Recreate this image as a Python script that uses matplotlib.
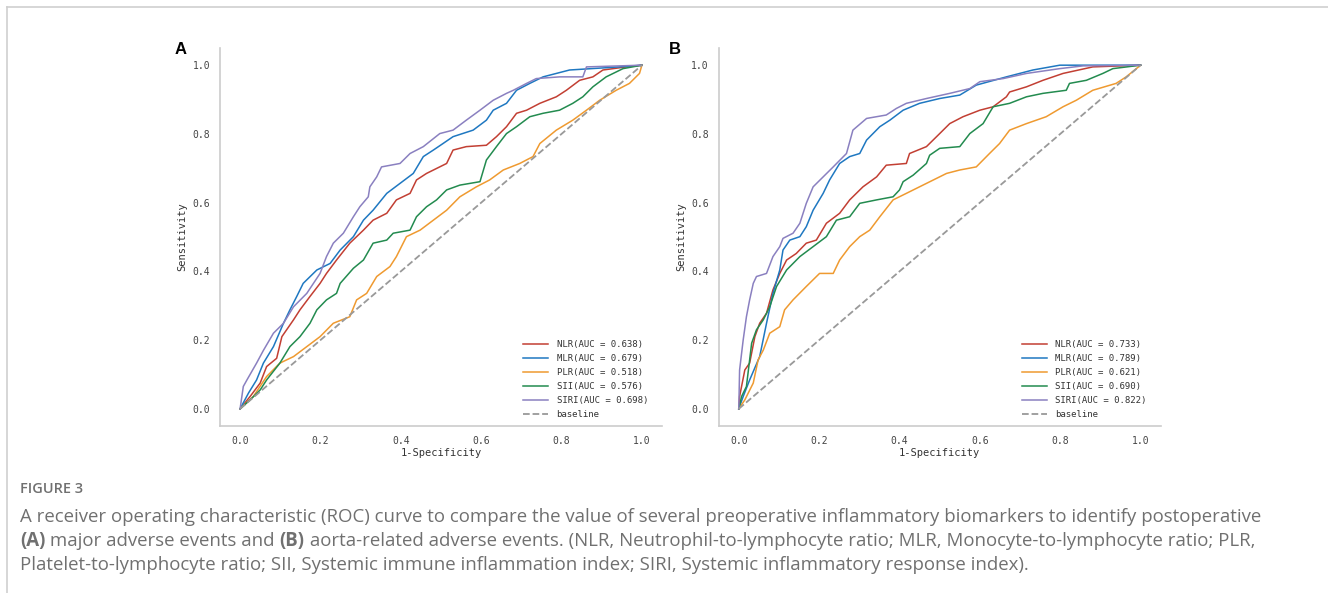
import matplotlib.pyplot as plt

W, H = 1328, 593

markers = ['NLR', 'MLR', 'PLR', 'SII', 'SIRI']
colors = ['#c23f33', '#1f78c1', '#ef9a30', '#238b4f', '#8a80c0']
auc_a = [0.638, 0.679, 0.518, 0.576, 0.698]
auc_b = [0.733, 0.789, 0.621, 0.690, 0.822]

# ---- panel A: major adverse events ----
a_nlr_fpr = [0, 0.025, 0.050, 0.066, 0.091, 0.104, 0.133, 0.149, 0.174, 0.199, 0.215, 0.240, 0.273, 0.307,
             0.331, 0.365, 0.389, 0.423, 0.439, 0.464, 0.514, 0.530, 0.563, 0.613, 0.638, 0.663, 0.688,
             0.713, 0.746, 0.787, 0.812, 0.845, 0.878, 0.903, 0.961, 1]
a_nlr_tpr = [0, 0.036, 0.075, 0.123, 0.147, 0.210, 0.259, 0.288, 0.327, 0.365, 0.394, 0.433, 0.482, 0.520,
             0.549, 0.569, 0.608, 0.627, 0.666, 0.685, 0.714, 0.753, 0.763, 0.767, 0.792, 0.821, 0.860,
             0.869, 0.889, 0.908, 0.927, 0.956, 0.966, 0.986, 0.995, 1]
a_mlr_fpr = [0, 0.021, 0.041, 0.058, 0.083, 0.108, 0.124, 0.141, 0.157, 0.191, 0.224, 0.249, 0.282, 0.307,
             0.331, 0.365, 0.398, 0.431, 0.456, 0.481, 0.505, 0.530, 0.580, 0.613, 0.630, 0.663, 0.688,
             0.721, 0.754, 0.820, 0.944, 1]
a_mlr_tpr = [0, 0.046, 0.084, 0.133, 0.181, 0.249, 0.288, 0.327, 0.365, 0.404, 0.423, 0.462, 0.501, 0.549,
             0.578, 0.627, 0.656, 0.685, 0.734, 0.753, 0.772, 0.792, 0.811, 0.840, 0.869, 0.889, 0.927,
             0.947, 0.966, 0.986, 0.995, 1]
a_plr_fpr = [0, 0.033, 0.066, 0.099, 0.133, 0.166, 0.199, 0.232, 0.273, 0.290, 0.315, 0.340, 0.373, 0.389,
             0.414, 0.448, 0.481, 0.514, 0.547, 0.588, 0.621, 0.655, 0.696, 0.729, 0.746, 0.787, 0.828,
             0.862, 0.895, 0.936, 0.969, 0.994, 1]
a_plr_tpr = [0, 0.036, 0.094, 0.133, 0.152, 0.181, 0.210, 0.249, 0.268, 0.317, 0.336, 0.385, 0.414, 0.443,
             0.501, 0.520, 0.549, 0.578, 0.617, 0.646, 0.666, 0.695, 0.714, 0.734, 0.772, 0.811, 0.840,
             0.869, 0.898, 0.927, 0.947, 0.976, 1]
a_sii_fpr = [0, 0.025, 0.050, 0.066, 0.099, 0.124, 0.149, 0.174, 0.191, 0.215, 0.240, 0.249, 0.282, 0.307,
             0.331, 0.365, 0.381, 0.423, 0.439, 0.464, 0.489, 0.514, 0.547, 0.597, 0.613, 0.638, 0.663,
             0.688, 0.721, 0.754, 0.795, 0.828, 0.853, 0.878, 0.911, 0.953, 1]
a_sii_tpr = [0, 0.026, 0.055, 0.084, 0.133, 0.181, 0.210, 0.249, 0.288, 0.317, 0.336, 0.365, 0.409, 0.433,
             0.482, 0.491, 0.511, 0.520, 0.559, 0.588, 0.608, 0.637, 0.651, 0.661, 0.724, 0.763, 0.801,
             0.821, 0.850, 0.860, 0.869, 0.889, 0.908, 0.937, 0.966, 0.990, 1]
a_siri_fpr = [0, 0.008, 0.017, 0.041, 0.058, 0.083, 0.108, 0.133, 0.166, 0.199, 0.215, 0.232, 0.257, 0.282,
              0.298, 0.319, 0.323, 0.340, 0.352, 0.398, 0.423, 0.456, 0.497, 0.530, 0.563, 0.597, 0.630,
              0.663, 0.680, 0.713, 0.737, 0.795, 0.853, 0.862, 1]
a_siri_tpr = [0, 0.065, 0.084, 0.133, 0.170, 0.220, 0.249, 0.297, 0.336, 0.394, 0.443, 0.482, 0.511, 0.559,
              0.588, 0.617, 0.646, 0.675, 0.704, 0.714, 0.743, 0.763, 0.801, 0.811, 0.840, 0.869, 0.898,
              0.918, 0.927, 0.947, 0.961, 0.966, 0.966, 0.995, 1]

# ---- panel B: aorta-related adverse events ----
b_nlr_fpr = [0, 0.002, 0.015, 0.027, 0.040, 0.052, 0.069, 0.085, 0.102, 0.119, 0.143, 0.168, 0.193, 0.218,
             0.251, 0.276, 0.309, 0.343, 0.367, 0.417, 0.425, 0.467, 0.500, 0.525, 0.558, 0.600, 0.633,
             0.666, 0.674, 0.716, 0.757, 0.807, 0.881, 1]
b_nlr_tpr = [0, 0.036, 0.113, 0.133, 0.210, 0.249, 0.278, 0.346, 0.394, 0.433, 0.452, 0.482, 0.491, 0.540,
             0.569, 0.608, 0.646, 0.675, 0.709, 0.714, 0.743, 0.763, 0.801, 0.830, 0.850, 0.869, 0.879,
             0.908, 0.922, 0.937, 0.956, 0.976, 0.995, 1]
b_mlr_fpr = [0, 0.011, 0.027, 0.052, 0.069, 0.085, 0.102, 0.110, 0.127, 0.152, 0.168, 0.185, 0.210, 0.226,
             0.251, 0.276, 0.301, 0.318, 0.351, 0.376, 0.409, 0.450, 0.500, 0.550, 0.591, 0.666, 0.732,
             0.799, 1]
b_mlr_tpr = [0, 0.036, 0.084, 0.152, 0.249, 0.336, 0.404, 0.462, 0.491, 0.501, 0.530, 0.578, 0.627, 0.666,
             0.714, 0.734, 0.743, 0.782, 0.821, 0.840, 0.869, 0.889, 0.903, 0.913, 0.942, 0.966, 0.986,
             1.0, 1]
b_plr_fpr = [0, 0.015, 0.036, 0.048, 0.061, 0.077, 0.102, 0.114, 0.135, 0.168, 0.201, 0.235, 0.251, 0.276,
             0.301, 0.326, 0.351, 0.384, 0.417, 0.467, 0.517, 0.550, 0.591, 0.624, 0.649, 0.674, 0.716,
             0.765, 0.807, 0.840, 0.881, 0.939, 0.964, 1]
b_plr_tpr = [0, 0.026, 0.075, 0.142, 0.171, 0.220, 0.239, 0.288, 0.317, 0.356, 0.394, 0.394, 0.433, 0.472,
             0.501, 0.520, 0.559, 0.608, 0.627, 0.656, 0.685, 0.695, 0.704, 0.743, 0.772, 0.811, 0.830,
             0.850, 0.879, 0.898, 0.927, 0.947, 0.966, 1]
b_sii_fpr = [0, 0.007, 0.019, 0.032, 0.044, 0.061, 0.077, 0.094, 0.119, 0.152, 0.185, 0.218, 0.243, 0.276,
             0.301, 0.343, 0.384, 0.400, 0.409, 0.434, 0.467, 0.475, 0.500, 0.550, 0.575, 0.608, 0.633,
             0.674, 0.716, 0.757, 0.815, 0.823, 0.865, 0.906, 0.931, 1]
b_sii_tpr = [0, 0.036, 0.065, 0.191, 0.230, 0.259, 0.297, 0.356, 0.404, 0.443, 0.472, 0.501, 0.549, 0.559,
             0.598, 0.608, 0.617, 0.637, 0.661, 0.680, 0.714, 0.738, 0.758, 0.763, 0.801, 0.830, 0.879,
             0.889, 0.908, 0.918, 0.927, 0.947, 0.956, 0.976, 0.990, 1]
b_siri_fpr = [0, 0.002, 0.011, 0.019, 0.027, 0.036, 0.044, 0.069, 0.085, 0.102, 0.110, 0.135, 0.152, 0.168,
              0.185, 0.210, 0.235, 0.268, 0.284, 0.318, 0.367, 0.392, 0.417, 0.467, 0.525, 0.575, 0.600,
              0.658, 0.716, 0.799, 0.857, 1]
b_siri_tpr = [0, 0.113, 0.201, 0.268, 0.317, 0.365, 0.385, 0.394, 0.443, 0.472, 0.496, 0.511, 0.540, 0.598,
              0.646, 0.675, 0.704, 0.743, 0.811, 0.845, 0.855, 0.874, 0.889, 0.903, 0.918, 0.932, 0.952,
              0.961, 0.976, 0.990, 0.998, 1]

curves_a = [(a_nlr_fpr, a_nlr_tpr), (a_mlr_fpr, a_mlr_tpr), (a_plr_fpr, a_plr_tpr),
            (a_sii_fpr, a_sii_tpr), (a_siri_fpr, a_siri_tpr)]
curves_b = [(b_nlr_fpr, b_nlr_tpr), (b_mlr_fpr, b_mlr_tpr), (b_plr_fpr, b_plr_tpr),
            (b_sii_fpr, b_sii_tpr), (b_siri_fpr, b_siri_tpr)]

ticks = [0.0, 0.2, 0.4, 0.6, 0.8, 1.0]
mono = 'DejaVu Sans Mono'
cap_font = 'Open Sans'
cap_color = '#707070'


def draw_panel(ax, curves, aucs):
    for (fpr, tpr), name, auc, col in zip(curves, markers, aucs, colors):
        ax.plot(fpr, tpr, color=col, lw=1.1, label='{}(AUC = {:.3f})'.format(name, auc))
    ax.plot([0, 1], [0, 1], color='#999999', lw=1.3, ls='--', label='baseline')
    ax.set_xlim(-0.05, 1.05)
    ax.set_ylim(-0.05, 1.05)
    ax.set_xticks(ticks)
    ax.set_yticks(ticks)
    ax.set_xticklabels(['{:.1f}'.format(t) for t in ticks], fontfamily=mono, fontsize=7, color='#444444')
    ax.set_yticklabels(['{:.1f}'.format(t) for t in ticks], fontfamily=mono, fontsize=7, color='#444444')
    ax.tick_params(length=0, pad=7)
    ax.set_xlabel('1-Specificity', fontfamily=mono, fontsize=7.5, color='#333333', labelpad=2)
    ax.set_ylabel('Sensitivity', fontfamily=mono, fontsize=7.5, color='#333333', labelpad=4)
    for s in ['top', 'right']:
        ax.spines[s].set_visible(False)
    for s in ['left', 'bottom']:
        ax.spines[s].set_color('#cccccc')
        ax.spines[s].set_linewidth(1.2)
    leg = ax.legend(loc='lower left', bbox_to_anchor=(0.686, 0.018), frameon=False,
                    prop={'family': mono, 'size': 6.5}, handlelength=2.8, handletextpad=0.9,
                    labelspacing=0.55, borderpad=0, borderaxespad=0)
    for t in leg.get_texts():
        t.set_color('#333333')


fig = plt.figure(figsize=(W / 100, H / 100), dpi=100)

ax_a = fig.add_axes([220 / W, 1 - 426 / H, 442 / W, 378 / H])
ax_b = fig.add_axes([718.7 / W, 1 - 426 / H, 442 / W, 378 / H])
draw_panel(ax_a, curves_a, auc_a)
draw_panel(ax_b, curves_b, auc_b)

fig.text(180.5 / W, 1 - 49 / H, 'A', fontsize=12, fontweight='bold', family='Liberation Sans',
         ha='center', va='center')
fig.text(675 / W, 1 - 49 / H, 'B', fontsize=12, fontweight='bold', family='Liberation Sans',
         ha='center', va='center')

# page frame (top and left edge of the figure box)
fig.add_artist(plt.Line2D([7 / W, 7 / W], [0, 1 - 7 / H], color='#cfcfcf', lw=1.2))
fig.add_artist(plt.Line2D([7 / W, 1], [1 - 7 / H, 1 - 7 / H], color='#cfcfcf', lw=1.2))

# caption
line1 = ('A receiver operating characteristic (ROC) curve to compare the value of several preoperative '
         'inflammatory biomarkers to identify postoperative')
line2 = [('(A)', 'bold'), (' major adverse events and ', 'normal'), ('(B)', 'bold'),
         (' aorta-related adverse events. (NLR, Neutrophil-to-lymphocyte ratio; MLR, '
          'Monocyte-to-lymphocyte ratio; PLR,', 'normal')]
line3 = ('Platelet-to-lymphocyte ratio; SII, Systemic immune inflammation index; SIRI, '
         'Systemic inflammatory response index).')

r = fig.canvas.get_renderer()
probe = fig.text(0, 0, line1, fontsize=12, family=cap_font)
wid = probe.get_window_extent(r).width
probe.remove()
cap_size = 12 * 1230 / wid

x0 = 20
fig.text(x0 / W, 1 - 489 / H, 'FIGURE 3', fontsize=cap_size * 0.78, family=cap_font,
         fontweight='semibold', color=cap_color, va='center', ha='left')
fig.text(x0 / W, 1 - 517 / H, line1, fontsize=cap_size, family=cap_font,
         color=cap_color, va='center', ha='left')
xx = x0
for txt, wt in line2:
    t = fig.text(xx / W, 1 - 541 / H, txt, fontsize=cap_size, family=cap_font, fontweight=wt,
                 color=cap_color, va='center', ha='left')
    xx = t.get_window_extent(r).x1
fig.text(x0 / W, 1 - 565 / H, line3, fontsize=cap_size, family=cap_font,
         color=cap_color, va='center', ha='left')

fig.savefig('out.png', dpi=100)
